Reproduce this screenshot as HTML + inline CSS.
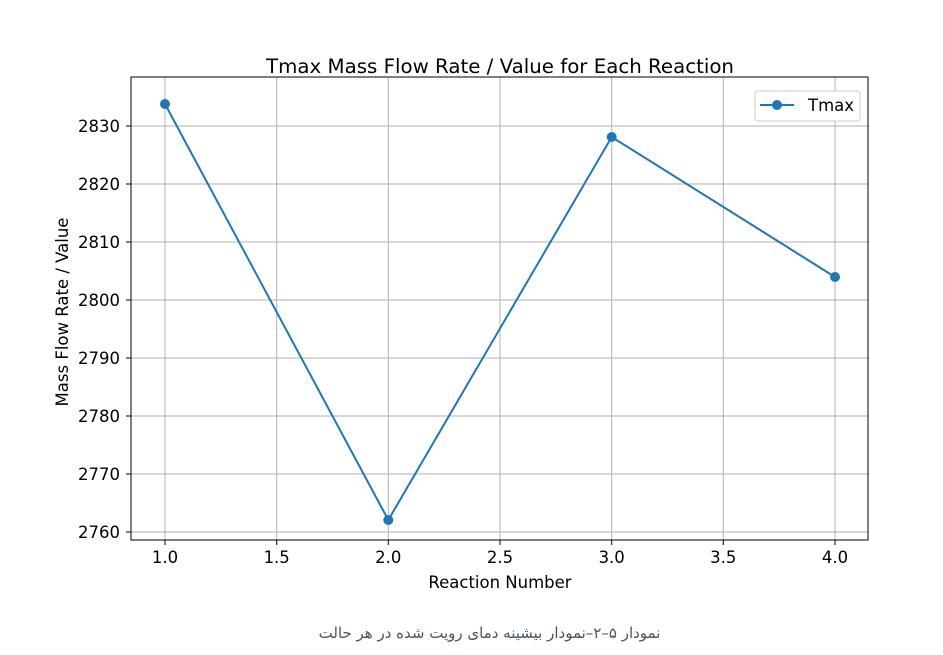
<!DOCTYPE html>
<html><head><meta charset="utf-8"><style>
body{margin:0;background:#fff;width:943px;height:655px;overflow:hidden}
svg{position:absolute;left:0;top:0}
.cap{position:absolute;left:18px;width:943px;top:624px;text-align:center;font-family:"DejaVu Sans",sans-serif;font-size:15px;color:#44546a;direction:rtl}
</style></head><body>
<svg width="943" height="600" font-family="DejaVu Sans, Liberation Sans, sans-serif" font-size="16.5">
<g stroke="#b0b0b0" stroke-width="1">
<line x1="165" y1="77" x2="165" y2="540"/><line x1="276.7" y1="77" x2="276.7" y2="540"/><line x1="388.3" y1="77" x2="388.3" y2="540"/><line x1="500" y1="77" x2="500" y2="540"/><line x1="611.7" y1="77" x2="611.7" y2="540"/><line x1="723.3" y1="77" x2="723.3" y2="540"/><line x1="835" y1="77" x2="835" y2="540"/>
<line x1="131" y1="532" x2="868" y2="532"/><line x1="131" y1="474" x2="868" y2="474"/><line x1="131" y1="416" x2="868" y2="416"/><line x1="131" y1="358" x2="868" y2="358"/><line x1="131" y1="300" x2="868" y2="300"/><line x1="131" y1="242" x2="868" y2="242"/><line x1="131" y1="184" x2="868" y2="184"/><line x1="131" y1="126" x2="868" y2="126"/>
</g>
<rect x="131" y="77" width="737" height="463" fill="none" stroke="#000" stroke-width="1"/>
<g stroke="#000"><line x1="165" y1="540" x2="165" y2="545"/><line x1="276.7" y1="540" x2="276.7" y2="545"/><line x1="388.3" y1="540" x2="388.3" y2="545"/><line x1="500" y1="540" x2="500" y2="545"/><line x1="611.7" y1="540" x2="611.7" y2="545"/><line x1="723.3" y1="540" x2="723.3" y2="545"/><line x1="835" y1="540" x2="835" y2="545"/>
<line x1="126" y1="532" x2="131" y2="532"/><line x1="126" y1="474" x2="131" y2="474"/><line x1="126" y1="416" x2="131" y2="416"/><line x1="126" y1="358" x2="131" y2="358"/><line x1="126" y1="300" x2="131" y2="300"/><line x1="126" y1="242" x2="131" y2="242"/><line x1="126" y1="184" x2="131" y2="184"/><line x1="126" y1="126" x2="131" y2="126"/></g>
<g text-anchor="middle"><text x="165" y="563">1.0</text><text x="276.7" y="563">1.5</text><text x="388.3" y="563">2.0</text><text x="500" y="563">2.5</text><text x="611.7" y="563">3.0</text><text x="723.3" y="563">3.5</text><text x="835" y="563">4.0</text></g>
<g text-anchor="end"><text x="120" y="538">2760</text><text x="120" y="480">2770</text><text x="120" y="422">2780</text><text x="120" y="364">2790</text><text x="120" y="306">2800</text><text x="120" y="248">2810</text><text x="120" y="190">2820</text><text x="120" y="132">2830</text></g>
<text x="500" y="588" text-anchor="middle">Reaction Number</text>
<text transform="translate(68,312) rotate(-90)" text-anchor="middle">Mass Flow Rate / Value</text>
<text x="500" y="73" text-anchor="middle" font-size="19.8">Tmax Mass Flow Rate / Value for Each Reaction</text>
<polyline points="165,104 388.3,520 611.7,137 835,277" fill="none" stroke="#1f77b4" stroke-width="2"/>
<g fill="#1f77b4"><circle cx="165" cy="104" r="5"/><circle cx="388.3" cy="520" r="5"/><circle cx="611.7" cy="137" r="5"/><circle cx="835" cy="277" r="5"/></g>
<rect x="755" y="91" width="105" height="30" rx="3" fill="#fff" stroke="#ccc"/>
<line x1="760" y1="105" x2="794" y2="105" stroke="#1f77b4" stroke-width="2"/><circle cx="777" cy="105" r="5" fill="#1f77b4"/>
<text x="808" y="111">Tmax</text>
</svg>
<div class="cap">نمودار ۵–۲–نمودار بیشینه دمای رویت شده در هر حالت</div>
</body></html>
